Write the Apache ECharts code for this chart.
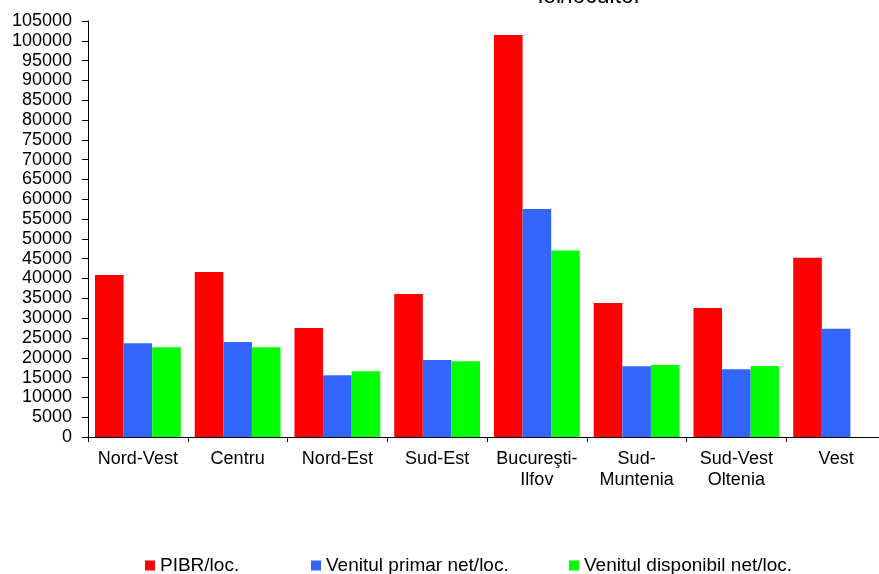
<!DOCTYPE html>
<html>
<head>
<meta charset="utf-8">
<script src="https://cdn.jsdelivr.net/npm/echarts@6/dist/echarts.min.js"></script>
<style>
html,body{margin:0;padding:0;background:#fff;overflow:hidden;}
#chart{width:886px;height:574px;}
</style>
</head>
<body>
<div id="chart"></div>
<script>
const categories = ['Nord-Vest', 'Centru', 'Nord-Est', 'Sud-Est', 'Bucureşti-\nIlfov', 'Sud-\nMuntenia', 'Sud-Vest\nOltenia', 'Vest'];
const seriesNames = ['PIBR/loc.', 'Venitul primar net/loc.', 'Venitul disponibil net/loc.'];
const pibr = [40900, 41650, 27500, 36100, 101450, 33800, 32550, 45250];
const venitPrimar = [23650, 23980, 15570, 19430, 57550, 17850, 17080, 27350];
const venitDisponibil = [22650, 22650, 16580, 19100, 47100, 18170, 17920, null];
const yTicks = { min: 0, max: 105000, interval: 5000 };
const unitLabel = 'lei/locuitor';

const colors = ['#FF0000', '#3366FF', '#00FF00'];
const FONT = '"Liberation Sans", Arial, sans-serif';

const chart = echarts.init(document.getElementById('chart'), null, { renderer: 'canvas' });

const legendLefts = [145, 311, 569];
const legends = seriesNames.map((n, i) => ({
  data: [n],
  left: legendLefts[i],
  top: 556,
  padding: 0,
  icon: 'rect',
  itemWidth: 10,
  itemHeight: 10,
  itemGap: 0,
  selectedMode: false,
  textStyle: { fontFamily: FONT, fontSize: 19, color: '#000' }
}));

const dataSets = [pibr, venitPrimar, venitDisponibil];

chart.setOption({
  animation: false,
  backgroundColor: '#fff',
  color: colors,
  textStyle: { fontFamily: FONT },
  grid: { left: 88, top: 21, bottom: 137, right: 0, containLabel: false },
  legend: legends,
  graphic: [{
    type: 'text',
    x: 538,
    y: 8,
    style: {
      text: unitLabel,
      font: '23px ' + FONT,
      fill: '#000',
      textAlign: 'left',
      textVerticalAlign: 'bottom'
    }
  }],
  xAxis: {
    type: 'category',
    data: categories,
    axisLine: { show: true, lineStyle: { color: '#000', width: 1 } },
    axisTick: { show: true, length: 5, lineStyle: { color: '#000' }, alignWithLabel: false },
    axisLabel: {
      interval: 0,
      margin: 12,
      color: '#000',
      fontFamily: FONT,
      fontSize: 18,
      lineHeight: 21,
      align: 'center'
    },
    splitLine: { show: false }
  },
  yAxis: {
    type: 'value',
    min: yTicks.min,
    max: yTicks.max,
    interval: yTicks.interval,
    axisLine: { show: true, lineStyle: { color: '#000', width: 1 } },
    axisTick: { show: true, length: 6, lineStyle: { color: '#000' } },
    axisLabel: {
      margin: 16,
      color: '#000',
      fontFamily: FONT,
      fontSize: 18,
      formatter: (v) => String(v)
    },
    splitLine: { show: false }
  },
  series: seriesNames.map((n, i) => ({
    name: n,
    type: 'bar',
    data: dataSets[i],
    barGap: '0%',
    barCategoryGap: '14%',
    itemStyle: { color: colors[i] }
  }))
});
</script>
</body>
</html>
